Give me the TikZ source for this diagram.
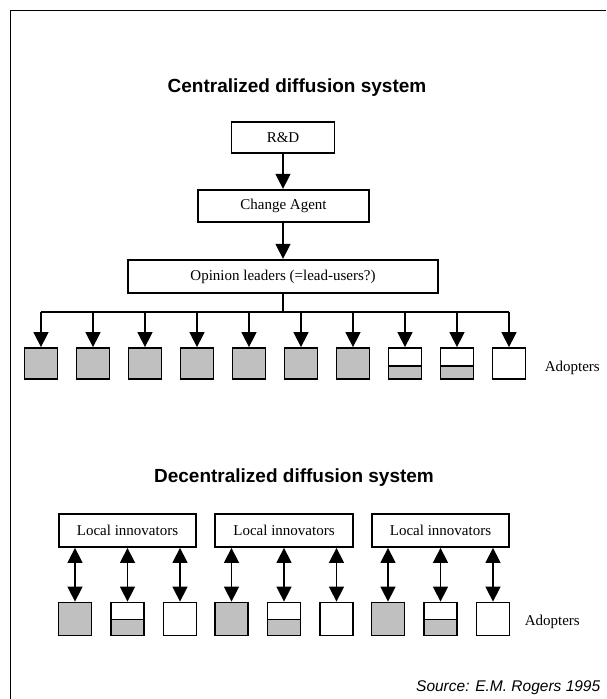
\documentclass[tikz,border=0pt]{standalone}
\usepackage{fontspec}
\setmainfont{Liberation Serif}
\setsansfont{Liberation Sans}
\usetikzlibrary{arrows.meta}
\definecolor{adoptgray}{RGB}{192,192,192}
\tikzset{
  box/.style={draw,line width=1.8pt,inner sep=0pt,font=\fontsize{15}{18}\selectfont},
  adopter/.style={draw,line width=1.8pt,minimum width=33pt,inner sep=0pt},
  full/.style={adopter,fill=adoptgray},
  blank/.style={adopter},
  half/.style={adopter,path picture={
    \fill[adoptgray] (path picture bounding box.south west) rectangle ([yshift=#1]path picture bounding box.south east);
    \draw[line width=1.8pt] ([yshift=#1]path picture bounding box.south west) -- ([yshift=#1]path picture bounding box.south east);}},
  half/.default=13pt,
  systitle/.style={font=\fontsize{19}{22}\sffamily\bfseries\selectfont},
  adoptlabel/.style={anchor=west,inner sep=0pt,font=\fontsize{15}{18}\selectfont}
}
\begin{document}
\begin{tikzpicture}[x=1pt,y=-1pt,>={Triangle[length=15pt,width=15pt]},line width=1.5pt]
  \useasboundingbox (0,0) rectangle (606,699);
  \draw[line width=1.8pt] (10.5,699) -- (10.5,10.5) -- (606,10.5);
  % centralized
  \node[systitle] (ctitle) at (297,88) {Centralized diffusion system};
  \node[box,minimum width=103pt,minimum height=31.5pt] (rd) at (283,137.5) {R\&D};
  \node[box,minimum width=171.5pt,minimum height=32.5pt] (agent) at (283.5,206) {Change Agent};
  \node[box,minimum width=310.5pt,minimum height=33.5pt] (opinion) at (283,276.5) {Opinion leaders (=lead-users?)};
  \draw[->] (rd) -- (rd.south |- agent.north);
  \draw[->] (agent.south -| rd.south) -- (rd.south |- opinion.north);
  \coordinate (bus) at (283,312);
  \draw (opinion.south) -- (bus);
  \foreach \i/\kind in {1/full,2/full,3/full,4/full,5/full,6/full,7/full,8/half,9/half,10/blank}
    \node[\kind,minimum height=31pt] (a\i) at ({41+52*(\i-1)},363.5) {};
  \draw (a1.north |- bus) -- (a10.north |- bus);
  \foreach \i in {1,...,10}
    \draw[->] (a\i.north |- bus) -- (a\i.north);
  \node[adoptlabel] (clab) at (544,368) {Adopters};
  % decentralized
  \node[systitle] (dtitle) at (294,478) {Decentralized diffusion system};
  \foreach \g/\cx in {1/127.5,2/284,3/440.5}{
    \node[box,minimum width=137.5pt,minimum height=33pt] (li\g) at (\cx,530.5) {Local innovators};
    \node[full,minimum height=33pt] (b\g1) at ({\cx-52.5},619) {};
    \node[half=16pt,minimum height=33pt] (b\g2) at (\cx,619) {};
    \node[blank,minimum height=33pt] (b\g3) at ({\cx+52.5},619) {};
    \foreach \j in {1,2,3}
      \draw[<->] (li\g.south -| b\g\j.north) -- (b\g\j.north);
  }
  \node[adoptlabel] (dlab) at (524,621.5) {Adopters};
  \node[anchor=east,inner sep=0pt,font=\fontsize{15.5}{18}\sffamily\itshape\selectfont] (src) at (601,688) {Source: E.M. Rogers 1995};
\end{tikzpicture}
\end{document}
